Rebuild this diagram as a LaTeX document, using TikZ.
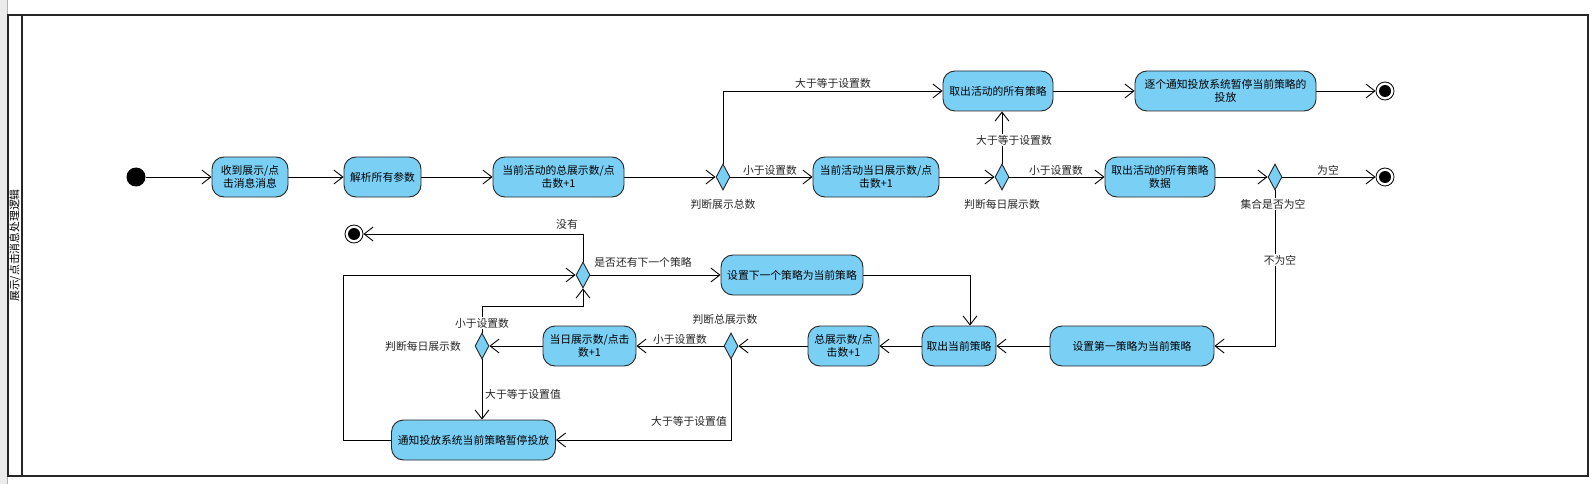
\documentclass[tikz,border=0pt]{standalone}
\usepackage{fontspec}
\newfontfamily\cjk{Noto Sans CJK SC}
\usetikzlibrary{arrows.meta,shapes.geometric}
\definecolor{act}{RGB}{122,207,245}
\tikzset{
  x=1pt,y=-1pt,
  every node/.style={font=\cjk\fontsize{10.8}{13}\selectfont},
  actbox/.style={draw=black!85,fill=act,rounded corners=12pt,line width=0.9pt,minimum height=40pt,inner sep=0pt,align=center},
  dec/.style={draw=black!85,fill=act,diamond,minimum width=14pt,minimum height=26pt,inner sep=0pt,line width=0.9pt},
  initial/.style={circle,fill=black,minimum size=19pt,inner sep=0pt},
  final/.style={circle,draw=black,fill=white,minimum size=18pt,inner sep=0pt,line width=0.8pt,
     path picture={\fill[black] (path picture bounding box.center) circle (6pt);}},
  arr/.style={draw=black,line width=0.9pt,-{Straight Barb[length=9pt,width=14pt,line width=0.9pt]}},
  lbl/.style={inner sep=1pt,text=black!85},
  wlbl/.style={inner sep=1pt,fill=white,text=black!85},
}
\begin{document}
\begin{tikzpicture}
\useasboundingbox (0,0) rectangle (1596,484);
% frame
\fill[black!8] (0,0) rectangle (7,484);
\draw[black!30,line width=0.6pt] (7,0) -- (7,484);
\draw[black!85,line width=1.6pt] (8,15) rectangle (1588,476);
\draw[black!85,line width=1.6pt] (22,15) -- (22,476);
\node[rotate=90,inner sep=0pt] (lane) at (15,245.5) {展示/点击消息处理逻辑};

% top rows
\node[initial] (start) at (136,177) {};
\node[actbox,minimum width=76pt] (n1) at (250,177) {收到展示/点\\击消息消息};
\node[actbox,minimum width=77pt] (n2) at (382.5,177) {解析所有参数};
\node[actbox,minimum width=131pt] (n3) at (558.5,177) {当前活动的总展示数/点\\击数+1};
\node[dec] (d1) at (723,177) {};
\node[actbox,minimum width=126pt] (n4) at (876,177) {当前活动当日展示数/点\\击数+1};
\node[dec] (d2) at (1002,177) {};
\node[actbox,minimum width=110pt] (n5) at (1160,177) {取出活动的所有策略\\数据};
\node[dec] (d3) at (1275,177) {};
\node[final] (f2) at (1385,177) {};
\node[actbox,minimum width=110pt] (t1) at (998,91) {取出活动的所有策略};
\node[actbox,minimum width=181pt] (t2) at (1225.5,91) {逐个通知投放系统暂停当前策略的\\投放};
\node[final] (f1) at (1385,91) {};

% bottom rows
\node[actbox,minimum width=164pt] (s1) at (1132,346) {设置第一策略为当前策略};
\node[actbox,minimum width=74pt] (s2) at (959,346) {取出当前策略};
\node[actbox,minimum width=71pt] (s3) at (843.5,346) {总展示数/点\\击数+1};
\node[dec] (d4) at (731,346) {};
\node[actbox,minimum width=93pt] (s4) at (589.5,346) {当日展示数/点击\\数+1};
\node[dec] (d5) at (482,346) {};
\node[actbox,minimum width=164pt] (s5) at (473.5,440) {通知投放系统当前策略暂停投放};
\node[dec] (d6) at (583,275) {};
\node[actbox,minimum width=142pt] (s6) at (792,275) {设置下一个策略为当前策略};
\node[final] (f3) at (354,234) {};

\coordinate (c1) at (482,306);
\coordinate (c2) at (343,440);
\coordinate (c3) at (970,275);

% connectors top
\draw[arr] (start) -- (n1);
\draw[arr] (n1) -- (n2);
\draw[arr] (n2) -- (n3);
\draw[arr] (n3) -- (d1);
\draw[arr] (d1.north) -- (d1.north |- t1.west) -- (t1.west);
\draw[arr] (d1) -- (n4);
\draw[arr] (n4) -- (d2);
\draw[arr] (d2.north) -- (d2.north |- t1.south);
\draw[arr] (d2) -- (n5);
\draw[arr] (t1) -- (t2);
\draw[arr] (t2) -- (f1);
\draw[arr] (n5) -- (d3);
\draw[arr] (d3) -- (f2);
\draw[arr] (d3.south) -- (d3.south |- s1.east) -- (s1.east);

% connectors bottom
\draw[arr] (s1) -- (s2);
\draw[arr] (s2) -- (s3);
\draw[arr] (s3) -- (d4);
\draw[arr] (d4) -- (s4);
\draw[arr] (s4) -- (d5);
\draw[arr] (d4.south) -- (d4.south |- s5.east) -- (s5.east);
\draw[arr] (d5.south) -- (d5.south |- s5.north);
\draw[arr] (d5.north) -- (c1) -| (d6.south);
\draw[arr] (s5.west) -- (c2) |- (d6.west);
\draw[arr] (d6.north) -- (d6.north |- f3) -- (f3);
\draw[arr] (d6) -- (s6);
\draw[arr] (s6.east) -- (c3) -- (c3 |- s2.north);

% labels
\node[lbl] (l1) at (833,83) {大于等于设置数};
\node[lbl] (l2) at (770,170) {小于设置数};
\node[wlbl] (l3) at (1014,140) {大于等于设置数};
\node[lbl] (l4) at (1056,170) {小于设置数};
\node[lbl] (l5) at (1328,170) {为空};
\node[lbl] (l6) at (723,204) {判断展示总数};
\node[lbl] (l7) at (1002,204) {判断每日展示数};
\node[wlbl] (l8) at (1273,204) {集合是否为空};
\node[wlbl] (l9) at (1280,260) {不为空};
\node[lbl] (l10) at (567,224) {没有};
\node[lbl] (l11) at (643,262) {是否还有下一个策略};
\node[lbl] (l12) at (725,319) {判断总展示数};
\node[lbl] (l13) at (680,339) {小于设置数};
\node[wlbl] (l14) at (482,323) {小于设置数};
\node[lbl] (l15) at (423,346) {判断每日展示数};
\node[wlbl] (l16) at (523,394) {大于等于设置值};
\node[wlbl] (l17) at (689,421) {大于等于设置值};
\end{tikzpicture}
\end{document}
